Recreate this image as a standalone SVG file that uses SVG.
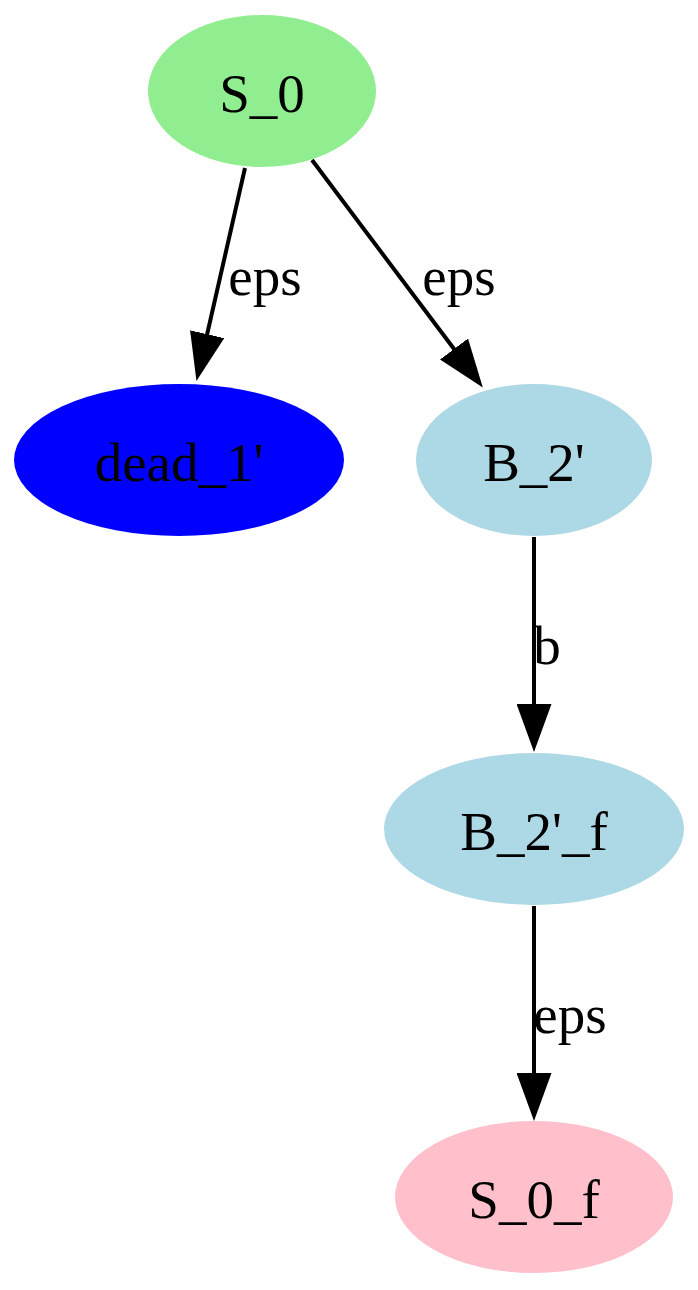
<svg xmlns="http://www.w3.org/2000/svg" width="698" height="1290" viewBox="0 0 698 1290">
<style>
.n{stroke:none}
.t{font-family:"Liberation Serif","Times New Roman",serif;font-size:55px;fill:#000;text-anchor:middle}
.e{stroke:#000;stroke-width:4;fill:none}
</style>
<defs>
<marker id="ah" viewBox="0 0 48 35" refX="1" refY="17.5" markerWidth="48" markerHeight="35" orient="auto" markerUnits="userSpaceOnUse">
<path d="M0,0 L48,17.5 L0,35 z" fill="#000"/>
</marker>
</defs>
<rect width="698" height="1290" fill="#fff"/>
<g id="edges">
<path class="e" d="M245,168 L206.9,335.2" marker-end="url(#ah)"/>
<text class="t" x="265" y="295">eps</text>
<path class="e" d="M312,160 L454.6,349.8" marker-end="url(#ah)"/>
<text class="t" x="459" y="295">eps</text>
<path class="e" d="M534,537 L534,705" marker-end="url(#ah)"/>
<text class="t" x="547" y="664">b</text>
<path class="e" d="M534,906 L534,1074" marker-end="url(#ah)"/>
<text class="t" x="570" y="1033">eps</text>
</g>
<g id="S_0">
<ellipse class="n" cx="262" cy="91" rx="114" ry="76" fill="#90ee90"/>
<text class="t" x="262" y="112">S_0</text>
</g>
<g id="dead_1">
<ellipse class="n" cx="179" cy="460" rx="165" ry="76" fill="#0000ff"/>
<text class="t" x="179" y="481">dead_1'</text>
</g>
<g id="B_2">
<ellipse class="n" cx="534" cy="460" rx="118" ry="76" fill="#add8e6"/>
<text class="t" x="534" y="481">B_2'</text>
</g>
<g id="B_2_f">
<ellipse class="n" cx="534" cy="829" rx="150" ry="76" fill="#add8e6"/>
<text class="t" x="534" y="850">B_2'_f</text>
</g>
<g id="S_0_f">
<ellipse class="n" cx="534" cy="1197" rx="139" ry="76" fill="#ffc0cb"/>
<text class="t" x="534" y="1218">S_0_f</text>
</g>
</svg>
